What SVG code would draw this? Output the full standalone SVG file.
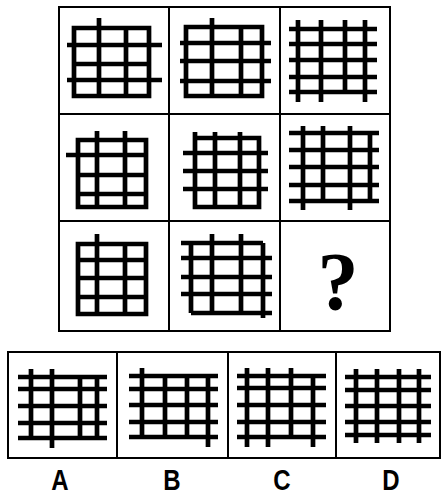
<svg xmlns="http://www.w3.org/2000/svg" width="442" height="498" viewBox="0 0 442 498">
<style>
.bd{fill:none;stroke:#000;stroke-width:2}
.g{fill:none;stroke:#000;stroke-width:4.7;stroke-linejoin:miter;stroke-linecap:butt}
.lbl{font-family:"Liberation Sans",Arial,sans-serif;font-weight:bold;font-size:30px;text-anchor:middle}
.q{font-family:"Liberation Serif","DejaVu Serif",serif;font-weight:bold;font-size:82px;text-anchor:middle}
</style>
<rect width="442" height="498" fill="#fff"/>
<g id="frame">
<path class="bd" d="M59,7 H390 V331 H59 Z M169,7 V331 M280,7 V331 M59,114 H390 M59,221 H390"/>
<path class="bd" d="M8,352 H440 V458 H8 Z M117,352 V458 M228,352 V458 M336,352 V458"/>
</g>
<g id="fig1" class="g"><path d="M74,28 H149 V96 H74 Z M99,18 V96 M126,28 V96 M67,45 H162 M74,64 H149 M67,80 H162"/></g>
<g id="fig2" class="g"><path d="M186,27 H262 V96 H186 Z M212,18 V96 M241,27 V96 M180,43 H271 M180,61 H271 M180,81 H271"/></g>
<g id="fig3" class="g"><path d="M289,29 H377 M289,44 H377 M289,60 H377 M289,77 H377 M289,92 H377 M298,20 V102 M321,20 V102 M345,20 V92 M365,20 V102"/></g>
<g id="fig4" class="g"><path d="M78,140 H146 V207 H78 Z M97,131 V207 M125,131 V207 M66,155 H146 M78,175 H146 M78,194 H146"/></g>
<g id="fig5" class="g"><path d="M195,138 H259 V207 H195 Z M195,132 V138 M215,132 V207 M240,132 V207 M183,153 H268 M183,171 H268 M183,189 H268"/></g>
<g id="fig6" class="g"><path d="M289,133 H379 M289,150 H379 M289,167 H379 M289,185 H379 M289,201 H379 M303,126 V210 M323,126 V201 M350,126 V210 M370,133 V201"/></g>
<g id="fig7" class="g"><path d="M78,244 H146 V314 H78 Z M97,234 V314 M125,244 V314 M78,260 H146 M78,278 H146 M78,297 H146"/></g>
<g id="fig8" class="g"><path d="M181,243 H263 M191,313 H272 M191,243 V313 M263,243 V318 M212,234 V313 M241,234 V313 M181,258 H272 M181,277 H272 M181,294 H272"/></g>
<g id="q"><text class="q" x="338" y="309">?</text></g>
<g id="optA" class="g"><path d="M18,377 H107 M18,389 H107 M18,406 H107 M18,423 H107 M18,438 H107 M31,369 V438 M52,369 V448 M80,377 V438 M97,377 V438"/></g>
<g id="optB" class="g"><path d="M129,376 H218 M129,389 H218 M129,405 H218 M129,422 H218 M129,437 H218 M142,368 V437 M165,376 V437 M187,376 V437 M208,376 V447"/></g>
<g id="optC" class="g"><path d="M237,376 H326 M237,388 H326 M237,405 H326 M237,422 H326 M237,437 H326 M247,368 V447 M268,368 V447 M291,368 V437 M313,376 V447"/></g>
<g id="optD" class="g"><path d="M345,377 H431 M345,390 H431 M345,406 H431 M345,422 H431 M345,435 H431 M356,369 V443 M377,369 V443 M399,369 V443 M419,369 V443"/></g>
<g id="labels">
<text class="lbl" transform="translate(60,490) scale(0.8,1)">A</text>
<text class="lbl" transform="translate(172,490) scale(0.8,1)">B</text>
<text class="lbl" transform="translate(282,490) scale(0.8,1)">C</text>
<text class="lbl" transform="translate(391,490) scale(0.8,1)">D</text>
</g>
</svg>
